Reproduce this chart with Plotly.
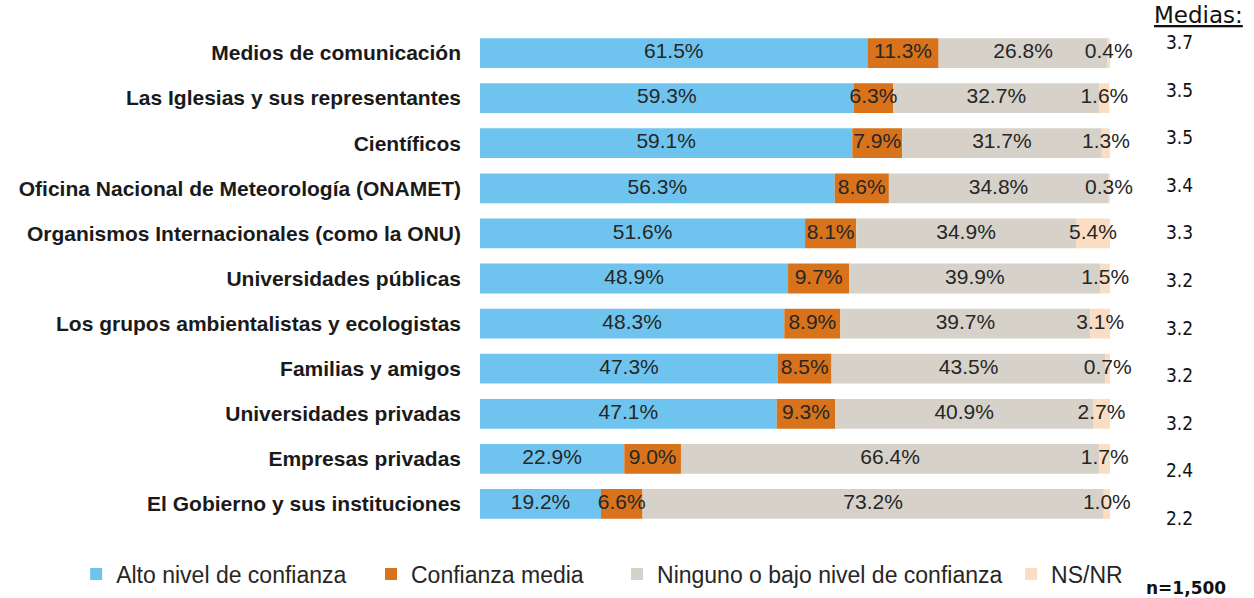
import plotly.graph_objects as go

categories = [
    "Medios de comunicación",
    "Las Iglesias y sus representantes",
    "Científicos",
    "Oficina Nacional de Meteorología (ONAMET)",
    "Organismos Internacionales (como la ONU)",
    "Universidades públicas",
    "Los grupos ambientalistas y ecologistas",
    "Familias y amigos",
    "Universidades privadas",
    "Empresas privadas",
    "El Gobierno y sus instituciones",
]
alto = [61.5, 59.3, 59.1, 56.3, 51.6, 48.9, 48.3, 47.3, 47.1, 22.9, 19.2]
media = [11.3, 6.3, 7.9, 8.6, 8.1, 9.7, 8.9, 8.5, 9.3, 9.0, 6.6]
bajo = [26.8, 32.7, 31.7, 34.8, 34.9, 39.9, 39.7, 43.5, 40.9, 66.4, 73.2]
nsnr = [0.4, 1.6, 1.3, 0.3, 5.4, 1.5, 3.1, 0.7, 2.7, 1.7, 1.0]
medias = [3.7, 3.5, 3.5, 3.4, 3.3, 3.2, 3.2, 3.2, 3.2, 2.4, 2.2]

series_names = ["Alto nivel de confianza", "Confianza media",
                "Ninguno o bajo nivel de confianza", "NS/NR"]
series_vals = [alto, media, bajo, nsnr]
colors = ["#6EC4EE", "#D8731B", "#D6D2CA", "#FBDDC3"]
legend_ids = ["legend", "legend2", "legend3", "legend4"]
legend_x = [-0.641, -0.173, 0.2175, 0.843]

FONT = "Liberation Sans"
FONT2 = "DejaVu Sans Condensed"
FONT3 = "DejaVu Sans"

fig = go.Figure()
base = [0.0] * len(categories)
for name, vals, col, lid in zip(series_names, series_vals, colors, legend_ids):
    fig.add_trace(go.Bar(
        y=categories, x=vals, base=base[:], orientation="h", name=name,
        marker=dict(color=col, line=dict(width=0)),
        hoverinfo="x+name", legend=lid,
    ))
    mids = [b + v / 2 for b, v in zip(base, vals)]
    fig.add_trace(go.Scatter(
        y=categories, x=mids, mode="text",
        text=[f"{v:.1f}%" for v in vals],
        textfont=dict(family=FONT, size=21, color="#262626"),
        showlegend=False, hoverinfo="skip", cliponaxis=False,
    ))
    base = [b + v for b, v in zip(base, vals)]

# Medias column
for i, (c, m) in enumerate(zip(categories, medias)):
    fig.add_annotation(
        x=1.111, xref="paper", y=c, yref="y", text=f"{m:.1f}",
        showarrow=False, xanchor="center", yshift=11 - i * 2.5,
        font=dict(family=FONT2, size=19, color="#111111"),
    )
fig.add_annotation(
    x=1.14, xref="paper", y=1.026, yref="paper", text="<u>Medias:</u>",
    showarrow=False, xanchor="center", yanchor="middle",
    font=dict(family=FONT3, size=23, color="#111111"),
)
fig.add_annotation(
    x=1.121, xref="paper", y=-0.118, yref="paper", text="<b>n=1,500</b>",
    showarrow=False, xanchor="center", yanchor="middle",
    font=dict(family=FONT3, size=17, color="#111111"),
)

legend_common = dict(
    orientation="h", xanchor="left", y=-0.09, yanchor="middle",
    font=dict(family=FONT, size=23, color="#262626"),
    itemwidth=30, bgcolor="rgba(0,0,0,0)",
)

fig.update_layout(
    barmode="overlay",
    bargap=0.34,
    width=1254, height=598,
    margin=dict(l=480, r=144, t=28, b=69, autoexpand=False),
    paper_bgcolor="white", plot_bgcolor="white",
    xaxis=dict(range=[0, 100], visible=False, fixedrange=True),
    yaxis=dict(
        autorange="reversed", showgrid=False, zeroline=False, showline=False,
        ticks="", tickmode="array", tickvals=categories,
        ticktext=[f"<b>{c}</b>" for c in categories],
        tickfont=dict(family=FONT, size=21, color="#1a1a1a"),
        ticklabelstandoff=18, fixedrange=True,
    ),
    showlegend=True,
    legend=dict(x=legend_x[0], **legend_common),
    legend2=dict(x=legend_x[1], **legend_common),
    legend3=dict(x=legend_x[2], **legend_common),
    legend4=dict(x=legend_x[3], **legend_common),
)

fig.write_html(
    "out.html",
    config={"displayModeBar": False},
    post_script="document.body.style.margin='0';document.body.style.overflow='hidden';",
)
